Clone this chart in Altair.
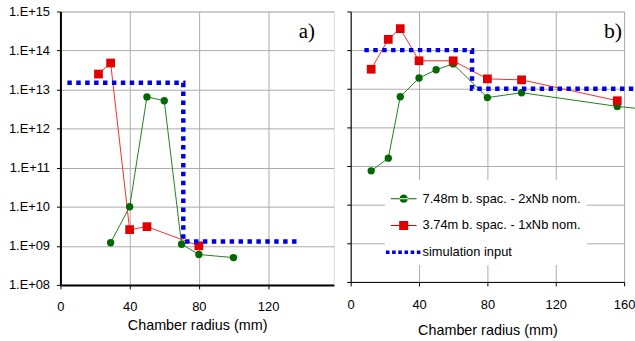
import altair as alt
import pandas as pd

# ---------------- data ----------------
series_names = ["7.48m b. spac. - 2xNb nom.", "3.74m b. spac. - 1xNb nom.", "simulation input"]

a_green_x = [29, 40, 50, 60, 70, 80, 100]
a_green_y = [1.2e9, 1.0e10, 6.5e12, 5.2e12, 1.1e9, 6.0e8, 5.0e8]
a_red_x = [22, 29, 40, 50, 80]
a_red_y = [2.5e13, 4.8e13, 2.6e9, 3.1e9, 1.0e9]
a_sim_x = [4, 71, 71, 139]
a_sim_y = [1.5e13, 1.5e13, 1.3e9, 1.3e9]

b_green_x = [12, 22, 29, 40, 50, 60, 80, 100, 156, 200]
b_green_y = [7.5e10, 1.6e11, 6.2e12, 1.9e13, 3.1e13, 4.4e13, 5.9e12, 7.9e12, 3.5e12, 2.2e12]
b_red_x = [12, 22, 29, 40, 60, 80, 100, 156]
b_red_y = [3.2e13, 1.9e14, 3.6e14, 5.3e13, 5.3e13, 1.8e13, 1.7e13, 4.9e12]
b_sim_x = [8, 71, 71, 166]
b_sim_y = [1e14, 1e14, 1e13, 1e13]

y_ticks = [1e8, 1e9, 1e10, 1e11, 1e12, 1e13, 1e14, 1e15]
a_x_ticks = [0, 40, 80, 120]
b_x_ticks = [0, 40, 80, 120, 160]

# ---------------- style ----------------
GREEN_M = "#006a00"
GREEN_L = "#1f7f1f"
RED_M = "#e00000"
RED_L = "#ff2a2a"
BLUE = "#0000e0"
GRID = "#ababab"
FONT = "Liberation Sans"

ylab_expr = ("'1.E+' + (round(log(datum.value)/LN10) < 10 ? '0' : '') "
             "+ round(log(datum.value)/LN10)")

# legend symbols: line + marker paths (unit box [-1,1])
line_rect = "M-1,-0.045H1V0.045H-1Z"
circle = "M-0.32,0A0.32,0.32,0,1,0,0.32,0A0.32,0.32,0,1,0,-0.32,0Z"
square = "M-0.35,-0.35H0.35V0.35H-0.35Z"
dots = "".join(
    f"M{-1.38 + i*0.48:.2f},-0.14h0.28v0.28h-0.28Z" for i in range(6)
)
legend_paths = [line_rect + circle, line_rect + square, dots]


def make_panel(gx, gy, rx, ry, sx, sy, xmax, xticks, w, h, first, tag,
               tag_size, tag_x, tag_y, label_pad, title_pad, dom_w, with_legend):
    green = pd.DataFrame({"x": gx, "y": gy, "i": list(range(len(gx)))})
    red = pd.DataFrame({"x": rx, "y": ry, "i": list(range(len(rx)))})
    sim = pd.DataFrame({"x": sx, "y": sy, "i": list(range(len(sx)))})

    xs = alt.Scale(domain=[0, xmax], nice=False, zero=False)
    ys = alt.Scale(type="log", domain=[1e8, 1e15], nice=False)
    xaxis = alt.Axis(values=xticks, title="Chamber radius (mm)", grid=True,
                     gridColor=GRID, gridWidth=1, labelFontSize=13,
                     labelFont=FONT, titleFont=FONT, titleFontSize=14.5,
                     titleFontWeight="normal", titlePadding=title_pad,
                     labelPadding=label_pad, tickSize=4, tickColor="black",
                     domainColor="black", domainWidth=dom_w, labelFlush=False,
                     labelOverlap=False,
                     labelColor="black", titleColor="black")
    ykw = dict(values=y_ticks, title=None, grid=True, gridColor=GRID,
               gridWidth=1, tickSize=4, tickColor="black", labelFlush=False,
               domainColor="black", domainWidth=dom_w)
    if first:
        ykw.update(labelExpr=ylab_expr, labelFontSize=13, labelFont=FONT,
                   labelColor="black", labelPadding=7, labelOverlap=False)
    else:
        ykw.update(labels=False)
    yaxis = alt.Axis(**ykw)

    X = alt.X("x:Q", scale=xs, axis=xaxis)
    Y = alt.Y("y:Q", scale=ys, axis=yaxis)

    g_line = alt.Chart(green).mark_line(color=GREEN_L, strokeWidth=1).encode(
        x=X, y=Y, order="i:O")
    g_pts = alt.Chart(green).mark_point(filled=True, shape="circle", size=55,
                                         color=GREEN_M, opacity=1).encode(x=X, y=Y)
    r_line = alt.Chart(red).mark_line(color=RED_L, strokeWidth=1).encode(
        x=X, y=Y, order="i:O")
    r_pts = alt.Chart(red).mark_point(filled=True, shape="square", size=78,
                                       color=RED_M, opacity=1).encode(x=X, y=Y)
    s_line = alt.Chart(sim).mark_line(color=BLUE, strokeWidth=4.5,
                                       strokeDash=[4.5, 4.5]).encode(
        x=X, y=Y, order="i:O")
    tag_layer = alt.Chart(pd.DataFrame({"t": [tag]})).mark_text(
        align="right", baseline="middle", font="Liberation Serif",
        fontSize=tag_size, color="black").encode(
        x=alt.value(tag_x), y=alt.value(tag_y), text="t:N")

    layers = [g_line, r_line, g_pts, r_pts, s_line, tag_layer]

    if with_legend:
        leg = pd.DataFrame({"s": series_names})
        lg = dict(orient="none", legendX=34.5, legendY=170, title=None,
                  fillColor="white", padding=6, labelFont=FONT,
                  labelFontSize=13, labelColor="black", rowPadding=7,
                  symbolSize=676, symbolStrokeWidth=0, labelOffset=6,
                  labelLimit=400)
        legend_layer = alt.Chart(leg).mark_point(filled=True, opacity=1).encode(
            color=alt.Color("s:N", scale=alt.Scale(domain=series_names,
                            range=[GREEN_M, RED_M, BLUE]), legend=alt.Legend(**lg)),
            shape=alt.Shape("s:N", scale=alt.Scale(domain=series_names,
                            range=legend_paths), legend=alt.Legend(**lg)),
        ).transform_filter("false")
        layers.append(legend_layer)

    return alt.layer(*layers).properties(width=w, height=h)


panel_a = make_panel(a_green_x, a_green_y, a_red_x, a_red_y, a_sim_x, a_sim_y,
                     158, a_x_ticks, 276, 276, True, "a)", 21, 257, 21,
                     12, 5, 2, False)
panel_b = make_panel(b_green_x, b_green_y, b_red_x, b_red_y, b_sim_x, b_sim_y,
                     160, b_x_ticks, 276, 273, False, "b)", 22, 274, 20,
                     13, 12, 1, True)

chart = alt.hconcat(panel_a, panel_b, spacing=11).resolve_scale(
    color="independent", shape="independent"
).properties(
    padding={"left": 7, "top": 3, "right": -63, "bottom": 0}
).configure_view(stroke="#505050", strokeWidth=1).configure(
    background="white"
)

chart.save("out.html", embed_options={"renderer": "svg", "actions": False})
